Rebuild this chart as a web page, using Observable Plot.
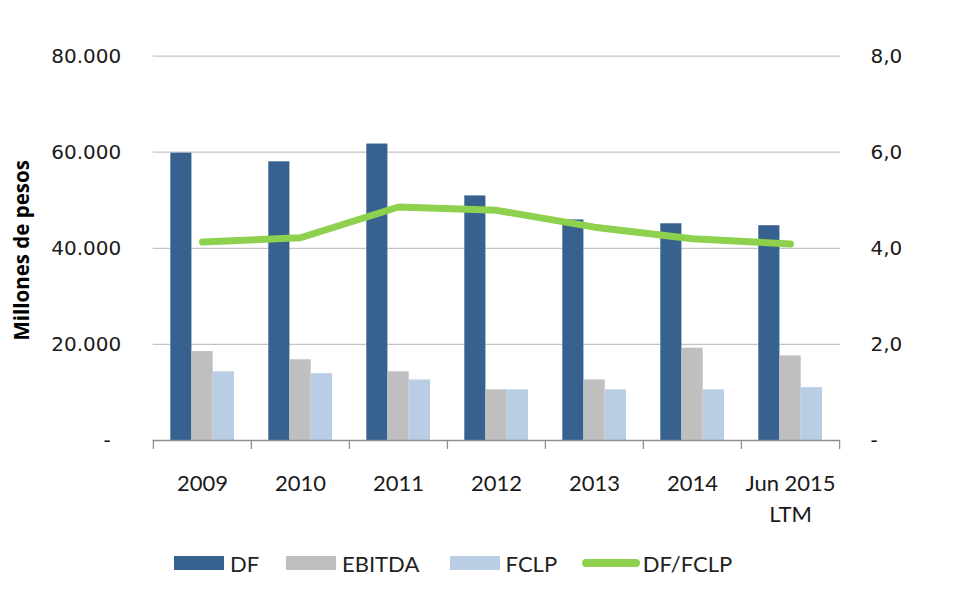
<!DOCTYPE html>
<html>
<head>
<meta charset="utf-8">
<script src="https://cdn.jsdelivr.net/npm/d3@7"></script>
<script src="https://cdn.jsdelivr.net/npm/@observablehq/plot@0.6"></script>
<style>
  html, body { margin: 0; padding: 0; background: #fff; }
  #wrap { position: relative; width: 975px; height: 614px; overflow: hidden; }
  #legend { position: relative; width: 975px; height: 84px; font-family: Lato, sans-serif; font-size: 22px; color: #222; }
  .item { position: absolute; top: 0; height: 66px; display: flex; align-items: center; }
  .sw { width: 50px; height: 14px; margin-right: 6px; }
  .ln { width: 58px; height: 8px; border-radius: 4px; margin-right: 3px; }
</style>
</head>
<body>
<div id="wrap"><div id="chart"></div><div id="legend"></div></div>
<script>
// ---- data ----
const categories = ["2009", "2010", "2011", "2012", "2013", "2014", "Jun 2015 LTM"];
const dfValues     = [59800, 58000, 61700, 50900, 45900, 45100, 44700];
const ebitdaValues = [18500, 16800, 14300, 10550, 12600, 19200, 17600];
const fclpValues   = [14300, 13900, 12600, 10550, 10550, 10550, 11000];
const ratioValues  = [4.13, 4.22, 4.86, 4.79, 4.44, 4.20, 4.09];
const leftTicks  = [0, 20000, 40000, 60000, 80000];
const rightTicks = [0, 2, 4, 6, 8];
const seriesNames = ["DF", "EBITDA", "FCLP", "DF/FCLP"];
const colors = {DF: "#37618f", EBITDA: "#bfbfbf", FCLP: "#b9cde5", "DF/FCLP": "#8dd14f"};

// ---- layout ----
const W = 975, H = 530;
const mL = 152.7, mR = 135, mT = 55.6, mB = 90;
const bw = (W - mL - mR) / categories.length;   // band width
const barW = 21.3, groupPad = 17.3;
const ratioFactor = 10000; // right axis 8,0 <-> left 80.000

const rows = (vals) => categories.map((c, i) => ({cat: c, v: vals[i]}));
const fmtLeft = d3.formatLocale({decimal: ",", thousands: ".", grouping: [3], currency: ["$", ""]}).format(",.0f");

function barMark(vals, name, k) {
  const left = groupPad + k * barW;
  return Plot.barY(rows(vals), {
    x: "cat", y: "v", fill: colors[name],
    insetLeft: left, insetRight: bw - left - barW
  });
}

const chart = Plot.plot({
  width: W, height: H,
  marginLeft: mL, marginRight: mR, marginTop: mT, marginBottom: mB,
  style: {fontFamily: "DejaVu Sans, sans-serif", color: "#1a1a1a", background: "transparent"},
  x: {type: "band", domain: categories, paddingInner: 0, paddingOuter: 0, axis: null},
  y: {domain: [0, 80000], axis: null},
  marks: [
    Plot.gridY(leftTicks.filter(d => d > 0), {stroke: "#c4c4c4", strokeOpacity: 1, strokeWidth: 1.3}),
    barMark(dfValues, "DF", 0),
    barMark(ebitdaValues, "EBITDA", 1),
    barMark(fclpValues, "FCLP", 2),
    Plot.ruleY([0], {stroke: "#8f8f8f", strokeWidth: 1.3}),
    Plot.ruleX(categories, {x: d => d, y1: 0, y2: 0, insetBottom: -9, dx: -bw / 2, stroke: "#8f8f8f", strokeWidth: 1.3}),
    Plot.ruleX(categories.slice(-1), {x: d => d, y1: 0, y2: 0, insetBottom: -9, dx: bw / 2, stroke: "#8f8f8f", strokeWidth: 1.3}),
    Plot.line(rows(ratioValues), {x: "cat", y: d => d.v * ratioFactor, stroke: colors["DF/FCLP"], strokeWidth: 7, strokeLinecap: "round", strokeLinejoin: "round"}),
    Plot.axisY({ticks: leftTicks, tickSize: 0, tickPadding: 32, fontSize: 20, label: null,
      tickFormat: d => d === 0 ? "-\u00a0\u2009" : fmtLeft(d)}),
    Plot.axisY({anchor: "right", ticks: rightTicks.map(d => d * ratioFactor), tickSize: 0, tickPadding: 30, fontSize: 20, label: null,
      tickFormat: d => d === 0 ? "-" : (d / ratioFactor).toFixed(1).replace(".", ",")}),
    Plot.axisX({tickSize: 0, tickPadding: 28, fontSize: 22, fontFamily: "Lato, sans-serif", label: null, lineHeight: 1.41,
      tickFormat: d => d.replace(" LTM", "\nLTM")}),
    Plot.text(["Millones de pesos"], {frameAnchor: "left", textAnchor: "middle", rotate: -90, dx: -130.7, dy: 2, fontSize: 20.5, fontWeight: "bold", fontFamily: "Open Sans, sans-serif", fill: "#000"})
  ]
});
document.getElementById("chart").appendChild(chart);

// ---- legend (HTML, below the SVG) ----
const legend = document.getElementById("legend");
const legendLeft = [174, 286, 449.6, 581.7];
seriesNames.forEach((name, i) => {
  const it = document.createElement("div");
  it.className = "item";
  it.style.left = legendLeft[i] + "px";
  const sw = document.createElement("div");
  sw.className = name === "DF/FCLP" ? "ln" : "sw";
  sw.style.background = colors[name];
  const tx = document.createElement("span");
  tx.textContent = name;
  it.appendChild(sw); it.appendChild(tx);
  legend.appendChild(it);
});
</script>
</body>
</html>
